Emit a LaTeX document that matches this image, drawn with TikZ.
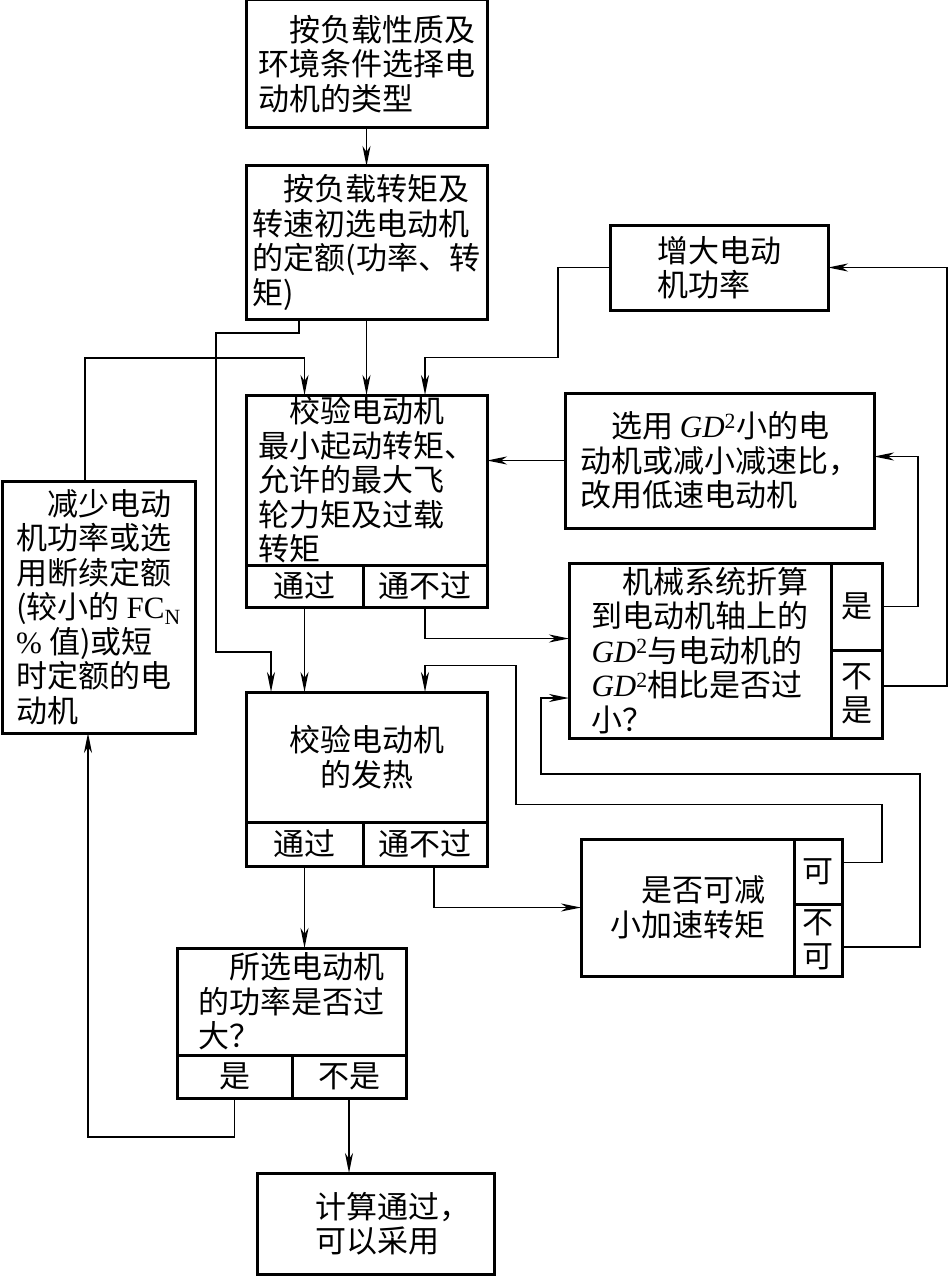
\documentclass[tikz,border=0pt]{standalone}
\usepackage{fontspec}
\setmainfont{Noto Sans CJK SC}
\newfontfamily\latinfont{Liberation Serif}
\usetikzlibrary{arrows.meta,calc}
\newcommand{\flowfont}{\fontsize{31}{34.5}\selectfont}
\newcommand{\gdsq}{{\latinfont\itshape GD}\textsuperscript{\latinfont 2}}
\tikzset{
  flow box/.style={draw, line width=3pt, inner sep=0pt, outer sep=0pt, anchor=north west, align=left, font=\flowfont},
  flow cell/.style={flow box, align=center},
  flow edge/.style={-{Stealth[length=20pt, width=8pt, inset=6pt]}, line width=1.5pt},
}

\begin{document}
\begin{tikzpicture}[x=1pt, y=-1pt]
  \useasboundingbox (0,0) rectangle (948,1276);
  % boxes of the main column
  \node[flow box, minimum width=241pt, minimum height=128pt] (type) at (246,0) {\hspace*{1em}按负载性质及\\环境条件选择电\\动机的类型};
  \node[flow box, minimum width=241pt, minimum height=153pt] (rate) at (246,166) {\hspace*{1em}按负载转矩及\\转速初选电动机\\的定额(功率、转\\矩)};
  \node[flow box, minimum width=241pt, minimum height=170pt] (check) at (246,395) {\hspace*{1em}校验电动机\\最小起动转矩、\\允许的最大飞\\轮力矩及过载\\转矩};
  \node[flow cell, minimum width=117pt, minimum height=42pt] (checkpass) at (246,565) {通过};
  \node[flow cell, minimum width=124pt, minimum height=42pt] (checkfail) at (363,565) {通不过};
  \node[flow box, align=center, minimum width=241pt, minimum height=130pt] (heat) at (246,692) {校验电动机\\的发热};
  \node[flow cell, minimum width=117pt, minimum height=44pt] (heatpass) at (246,822) {通过};
  \node[flow cell, minimum width=124pt, minimum height=44pt] (heatfail) at (363,822) {通不过};
  \node[flow box, minimum width=229pt, minimum height=107pt] (big) at (177,948) {\hspace*{1em}所选电动机\\的功率是否过\\大？};
  \node[flow cell, minimum width=115pt, minimum height=43pt] (bigyes) at (177,1055) {是};
  \node[flow cell, minimum width=114pt, minimum height=43pt] (bigno) at (292,1055) {不是};
  \node[flow box, minimum width=237pt, minimum height=101pt] (ok) at (257,1173) {\hspace*{34pt}计算通过，\\\hspace*{34pt}可以采用};
  % side boxes
  \node[flow box, minimum width=193pt, minimum height=252pt] (red) at (2,481) {\hspace*{1em}减少电动\\机功率或选\\用断续定额\\(较小的 {\latinfont FC\textsubscript{N}}\\{\latinfont\%} 值)或短\\时定额的电\\动机};
  \node[flow box, minimum width=218pt, minimum height=85pt] (inc) at (610,225) {增大电动\\机功率};
  \node[flow box, minimum width=309pt, minimum height=135pt] (gd) at (565,393) {\hspace*{1em}选用 \gdsq 小的电\\动机或减小减速比，\\改用低速电动机};
  \node[flow box, minimum width=262pt, minimum height=175pt] (ratio) at (569,563) {\hspace*{1em}机械系统折算\\到电动机轴上的\\\gdsq 与电动机的\\\gdsq 相比是否过\\小？};
  \node[flow cell, minimum width=51pt, minimum height=87pt] (ratioyes) at (831,563) {是};
  \node[flow cell, minimum width=51pt, minimum height=88pt] (rationo) at (831,650) {不\\是};
  \node[flow box, minimum width=213pt, minimum height=137pt] (acc) at (581,839) {\hspace*{1em}是否可减\\小加速转矩};
  \node[flow cell, minimum width=48pt, minimum height=65pt] (accyes) at (794,839) {可};
  \node[flow cell, minimum width=48pt, minimum height=72pt] (accno) at (794,904) {不\\可};
  % connectors
  \draw[flow edge] (type) -- (rate);
  \draw[flow edge] (rate) -- (check);
  \draw[flow edge] ([xshift=53pt]rate.south west) -- ++(0,14) -- ++(-83,0) -- ++(0,319) -- ++(55,0) -- ([xshift=25pt]heat.north west);
  \draw[flow edge] ([xshift=83pt]red.north west) -- ++(0,-123) -| (check.north -| checkpass);
  \draw[flow edge] (inc.west) -- ++(-52,0) -- ++(0,90) -| (check.north -| checkfail);
  \draw[flow edge] (gd.west) -- (gd.west -| check.east);
  \draw[flow edge] (checkpass.south) -- (checkpass.south |- heat.north);
  \draw[flow edge] (checkfail.south) |- ([yshift=12pt]ratio.west);
  \draw[flow edge] (ratioyes.east) -- ++(36,0) |- ([yshift=4pt]gd.east);
  \draw[flow edge] ([yshift=8pt]rationo.east) -- ++(65,0) |- (inc.east);
  \draw[flow edge] ([yshift=9pt]accyes.east) -- ++(40,0) -- ++(0,-58) -- ++(-366,0) -- ++(0,-139) -| (heat.north -| heatfail);
  \draw[flow edge] ([yshift=-7pt]accno.east) -- ++(78,0) -- ++(0,-173) -- ++(-379,0) |- ([yshift=-47.5pt]ratio.west);
  \draw[flow edge] ([xshift=9pt]heatfail.south) |- (acc.west);
  \draw[flow edge] (heatpass.south) -- (heatpass.south |- big.north);
  \draw[flow edge] (bigyes.south) -- ++(0,39) -| ([xshift=86pt]red.south west);
  \draw[flow edge] (bigno.south) -- (bigno.south |- ok.north);
\end{tikzpicture}
\end{document}
